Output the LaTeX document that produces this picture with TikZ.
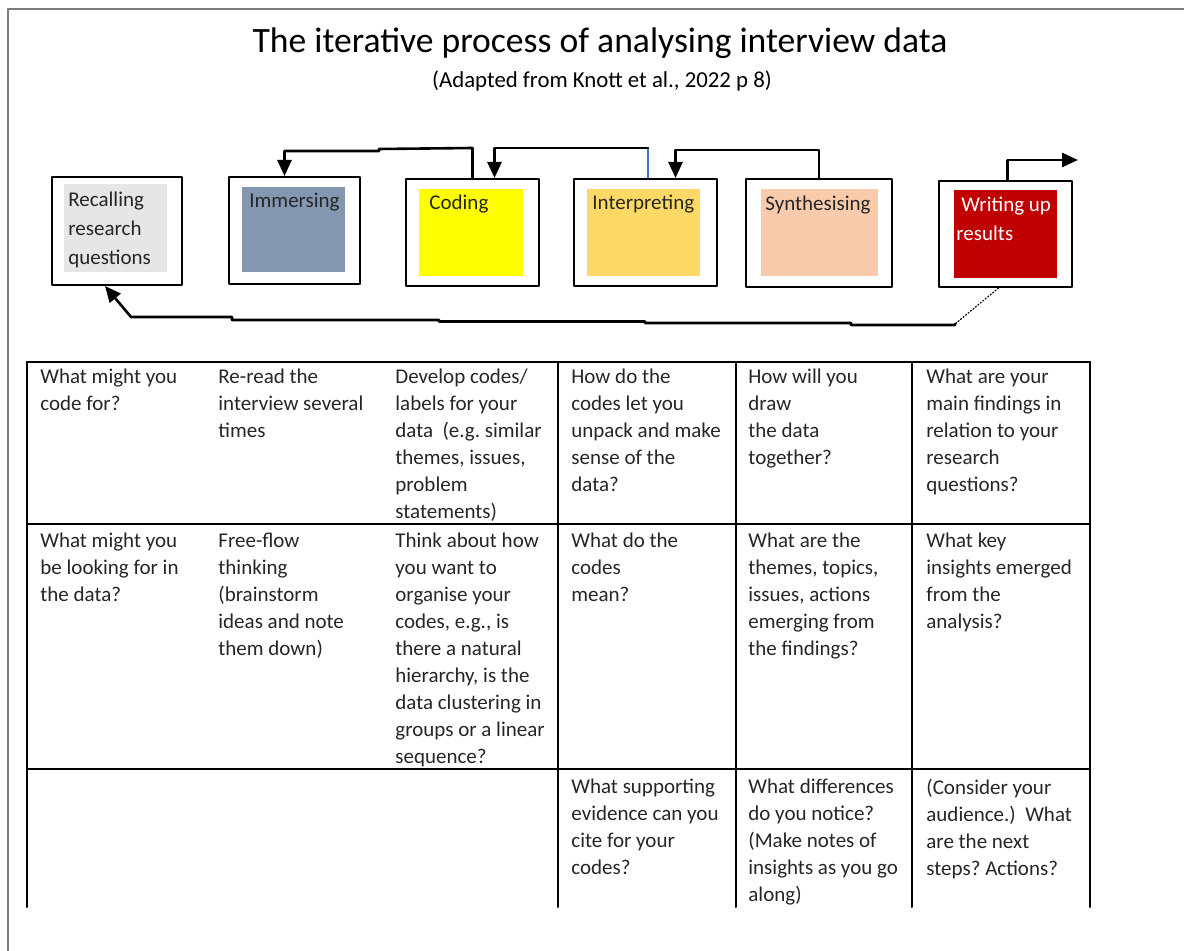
\documentclass[tikz,border=0pt]{standalone}
\usepackage{fontspec}
\setmainfont{Carlito}
\usetikzlibrary{arrows.meta,calc}
\definecolor{recallgrey}{RGB}{230,230,230}
\definecolor{immerseblue}{RGB}{132,151,176}
\definecolor{codeyellow}{RGB}{255,255,0}
\definecolor{interpgold}{RGB}{255,217,102}
\definecolor{synthpeach}{RGB}{248,203,173}
\definecolor{writered}{RGB}{192,0,0}
\definecolor{framegrey}{RGB}{125,125,125}
\definecolor{linkblue}{RGB}{68,114,196}
\frenchspacing

\tikzset{
  stage/.style={draw=black, line width=1pt, fill=white, inner sep=0pt},
  stagefill/.style={inner sep=0pt},
  stagetext/.style={inner sep=0pt, anchor=north west, align=left, text=black!85,
    font=\fontsize{10.5}{14.5}\selectfont, execute at begin node=\strut},
  flow/.style={line width=1.3pt, -{Triangle[length=8pt,width=7pt]}},
  cell/.style={inner sep=0pt, anchor=north west, align=left, text=black!85,
    font=\fontsize{10.5}{13.5}\selectfont, execute at begin node=\strut},
  tablerule/.style={line width=1pt}
}

\begin{document}
\begin{tikzpicture}[x=0.5pt, y=-0.5pt, line cap=round, line join=round]
    \useasboundingbox (0,0) rectangle (1184,951);
    %Page frame
    \draw[framegrey, line width=1pt] (1184,9) -- (8,9) -- (8,951);

    %Heading
    \node[anchor=base, font=\fontsize{17.8}{22}\selectfont] (title) at (600,53) {The iterative process of analysing interview data};
    \node[anchor=base, font=\fontsize{11.4}{13}\selectfont] (source) at (602,88) {(Adapted from Knott et al., 2022 p 8)};

    %Stages
        %Recalling
    \node[stage, minimum width=65pt, minimum height=54pt] (recall) at (117,231) {};
    \node[stagefill, fill=recallgrey, minimum width=51.5pt, minimum height=44pt] (recallFill) at (115.5,228) {};
    \node[stagetext] (recallText) at (68,191.7) {Recalling\\research\\questions};
        %Immersing
    \node[stage, minimum width=65.5pt, minimum height=53.5pt] (immerse) at (294.5,230.5) {};
    \node[stagefill, fill=immerseblue, minimum width=51.5pt, minimum height=42.5pt] (immerseFill) at (293.5,229.5) {};
    \node[stagetext] (immerseText) at (249,186.7) {Immersing};
        %Coding
    \node[stage, minimum width=66.5pt, minimum height=53.5pt] (code) at (472.5,232.5) {};
    \node[stagefill, fill=codeyellow, minimum width=52pt, minimum height=43.5pt] (codeFill) at (471,232.5) {};
    \node[stagetext] (codeText) at (429,188.7) {Coding};
        %Interpreting
    \node[stage, minimum width=71.5pt, minimum height=53.5pt] (interpret) at (645.5,232.5) {};
    \node[stagefill, fill=interpgold, minimum width=56.5pt, minimum height=43.5pt] (interpretFill) at (643.5,232.5) {};
    \node[stagetext] (interpretText) at (592,188.7) {Interpreting};
        %Synthesising
    \node[stage, minimum width=73pt, minimum height=54pt] (synth) at (819,233) {};
    \node[stagefill, fill=synthpeach, minimum width=58.5pt, minimum height=43.5pt] (synthFill) at (819.5,232.5) {};
    \node[stagetext] (synthText) at (765,189.7) {Synthesising};
        %Writing up
    \node[stage, minimum width=66.5pt, minimum height=53pt] (writeup) at (1005.5,234) {};
    \node[stagefill, fill=writered, minimum width=51.5pt, minimum height=44pt] (writeupFill) at (1005.5,234) {};
    \node[stagetext, text=white] (writeupText) at (956,196.7) {\hspace{2.5pt}Writing up\\results};

    %Loops over the stages
    \draw[flow] (code.north) -- ++(0,-30) -- (379,149) -- (379,151) -| ([xshift=-5pt]immerse.north);
    \coordinate (j3) at (648,148);
    \draw[linkblue, line width=0.6pt] (j3 |- interpret.north) -- (j3);
    \draw[flow] (j3) -| ([xshift=11pt]code.north);
    \draw[flow] (synth.north) -- ++(0,-28) -| ([xshift=15pt]interpret.north);
    \coordinate (onward) at (1078,160);
    \draw[flow] ([xshift=1pt]writeup.north) |- (onward);
        %Back to the questions
    \coordinate (bend) at (955,324);
    \draw[line width=0.6pt, densely dotted] ([xshift=-3.5pt]writeup.south) -- (bend);
    \draw[flow] (bend) -- (955,325) -- (851,325) -- (851,323) -- (645,323) -- (645,321.5)
        -- (439,321.5) -- (439,320) -- (232,320) -- (232,317) -- (131,317) -- ([xshift=-6pt]recall.south);

    %Table rules
    \draw[tablerule] (27,362) -- (1090,362);
    \draw[tablerule] (27,524) -- (1090,524);
    \draw[tablerule] (27,769) -- (1090,769);
    \foreach \x in {27,558,736,912,1090}
        \draw[tablerule] (\x,362) -- (\x,907);

    %Row 1
    \node[cell] (r1c1) at (40,369) {What might you\\code for?};
    \node[cell] (r1c2) at (218,369) {Re-read the\\interview several\\times};
    \node[cell] (r1c3) at (395,369) {Develop codes/\\labels for your\\data \ (e.g. similar\\themes, issues,\\problem\\statements)};
    \node[cell] (r1c4) at (571,369) {How do the\\codes let you\\unpack and make\\sense of the\\data?};
    \node[cell] (r1c5) at (748,369) {How will you\\draw\\the data\\together?};
    \node[cell] (r1c6) at (926,369) {What are your\\main findings in\\relation to your\\research\\questions?};
    %Row 2
    \node[cell] (r2c1) at (40,533) {What might you\\be looking for in\\the data?};
    \node[cell] (r2c2) at (218,533) {Free-flow\\thinking\\(brainstorm\\ideas and note\\them down)};
    \node[cell] (r2c3) at (395,533) {Think about how\\you want to\\organise your\\codes, e.g., is\\there a natural\\hierarchy, is the\\data clustering in\\groups or a linear\\sequence?};
    \node[cell] (r2c4) at (571,533) {What do the\\codes\\mean?};
    \node[cell] (r2c5) at (748,533) {What are the\\themes, topics,\\issues, actions\\emerging from\\the findings?};
    \node[cell] (r2c6) at (926,533) {What key\\insights emerged\\from the\\analysis?};
    %Row 3
    \node[cell] (r3c4) at (571,779) {What supporting\\evidence can you\\cite for your\\codes?};
    \node[cell] (r3c5) at (748,779) {What differences\\do you notice?\\(Make notes of\\insights as you go\\along)};
    \node[cell] (r3c6) at (926,779) {(Consider your\\audience.) \ What\\are the next\\steps? Actions?};
\end{tikzpicture}
\end{document}
